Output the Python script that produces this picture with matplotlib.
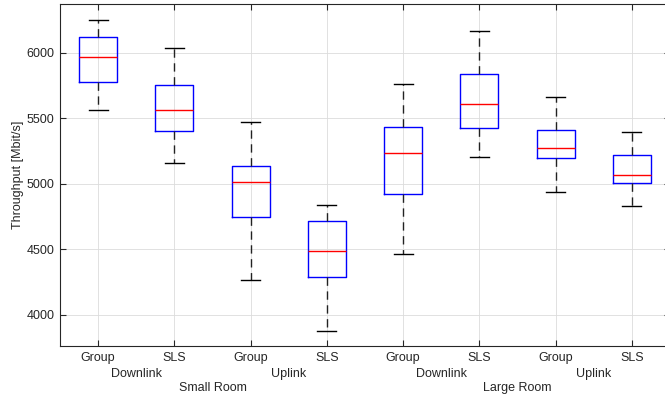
import numpy as np
import matplotlib
matplotlib.use('Agg')
import matplotlib.pyplot as plt
import matplotlib.transforms as mtransforms

plt.rcParams['font.family'] = ['Liberation Sans', 'DejaVu Sans']

#### 読み取った箱ひげ図の値
labels = ['Group', 'SLS', 'Group', 'SLS', 'Group', 'SLS', 'Group', 'SLS']
whishi = [6254, 6035, 5470, 4840, 5766, 6165, 5661, 5399]
q3     = [6119, 5758, 5134, 4720, 5435, 5837, 5409, 5221]
med    = [5972, 5565, 5018, 4485, 5237, 5608, 5277, 5069]
q1     = [5779, 5407, 4746, 4290, 4926, 5430, 5195, 5008]
whislo = [5565, 5160, 4264, 3878, 4468, 5208, 4939, 4834]

link_labels = ['Downlink', 'Uplink', 'Downlink', 'Uplink']
room_labels = ['Small Room', 'Large Room']

stats = []
for i in range(len(labels)):
    stats.append({'whishi': whishi[i], 'q3': q3[i], 'med': med[i],
                  'q1': q1[i], 'whislo': whislo[i], 'fliers': []})

txt = '#262626'
fig = plt.figure(figsize=(6.65, 3.98), dpi=100)
ax = fig.add_axes([60/665, 52/398, 610/665, 342/398])

pos = np.arange(1, len(labels) + 1)
ax.bxp(stats, positions=pos, widths=0.5, showfliers=False,
       boxprops=dict(color='blue', linewidth=1.0),
       medianprops=dict(color='red', linewidth=1.0),
       whiskerprops=dict(color='#222222', linewidth=1.0, linestyle=(0, (6, 4))),
       capprops=dict(color='black', linewidth=1.0),
       capwidths=0.25)

ax.set_xlim(0.5, 8.5)
ax.set_ylim(3763, 6374)
ax.set_yticks([4000, 4500, 5000, 5500, 6000])
ax.set_xticks(pos)
ax.set_xticklabels(labels)
ax.grid(True, color='#dcdcdc', linewidth=0.6)
ax.set_axisbelow(True)
ax.tick_params(direction='in', length=4, top=True, right=True, colors=txt,
               labelsize=9, pad=4)
for s in ax.spines.values():
    s.set_color(txt)
    s.set_linewidth(0.8)
ax.set_ylabel('Throughput [Mbit/s]', fontsize=9, color=txt, labelpad=2)

trans = mtransforms.blended_transform_factory(ax.transData, ax.transAxes)
for i, l in enumerate(link_labels):
    ax.text(1.5 + 2*i, -0.082, l, transform=trans, ha='center', va='center',
            fontsize=9, color=txt)
for i, l in enumerate(room_labels):
    ax.text(2.5 + 4*i, -0.123, l, transform=trans, ha='center', va='center',
            fontsize=9, color=txt)

fig.savefig('out.png', dpi=100)
